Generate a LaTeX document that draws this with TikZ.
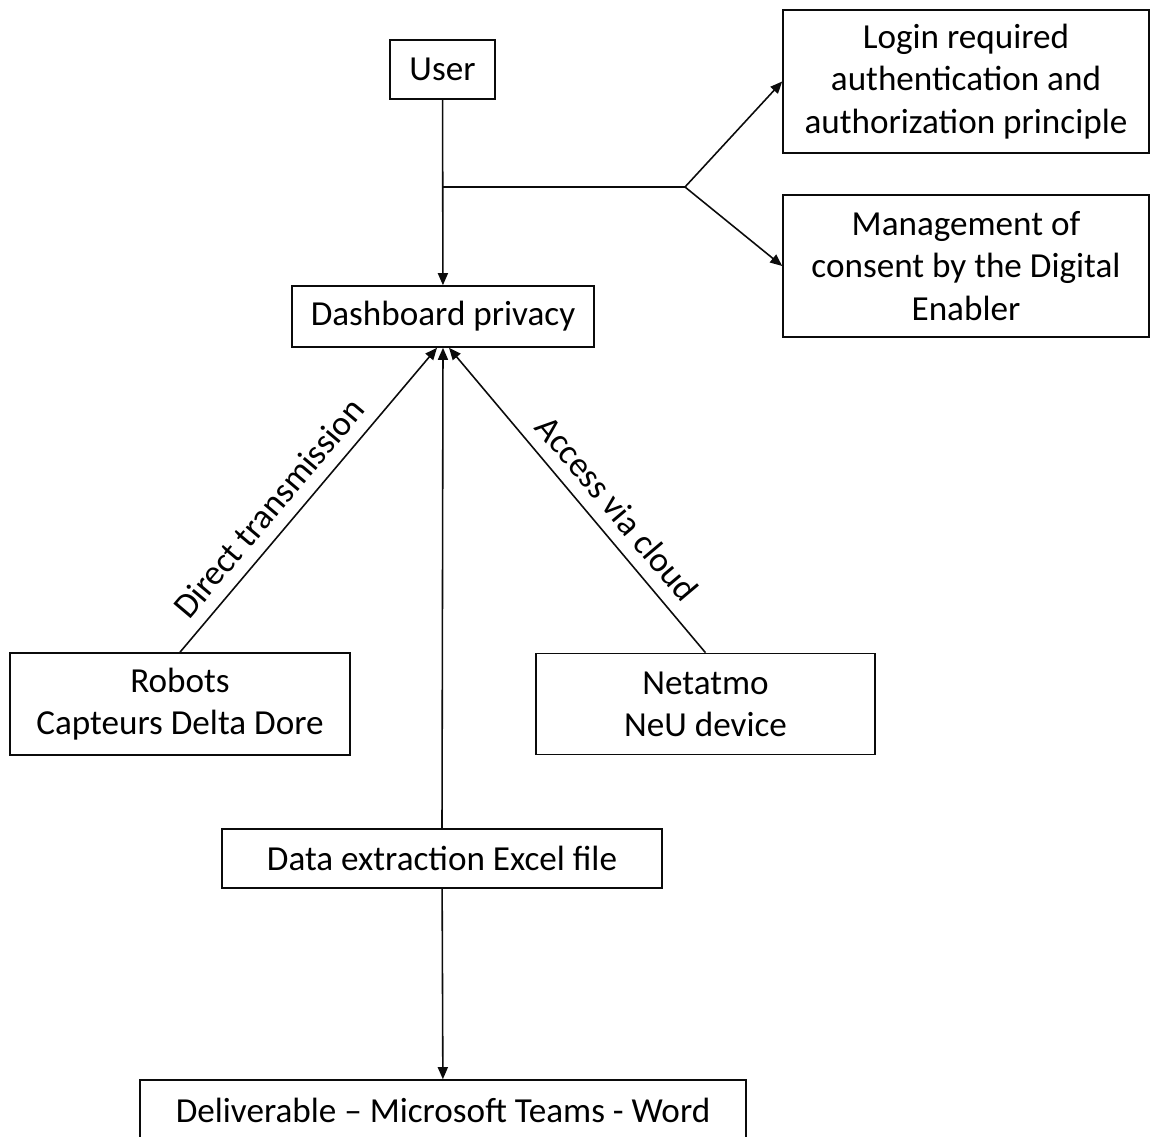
\documentclass[tikz,border=0pt]{standalone}
\usepackage{fontspec}
\setmainfont{Carlito}
\usetikzlibrary{arrows.meta,positioning}
\definecolor{ink}{HTML}{0B0B0B}

\begin{document}
\begin{tikzpicture}[x=0.1mm,y=-0.1mm,font=\fontsize{10}{12}\selectfont,
  box/.style={draw=ink,line width=0.45pt,align=center,inner sep=0pt},
  link/.style={-{Triangle[length=1.2mm,width=1mm]},line width=0.45pt,draw=ink},
  lbl/.style={pos=0.42,sloped,above,inner sep=3.5pt}]
  \useasboundingbox (0,0) rectangle (1150,1137);
  % boxes
  \node[box,minimum width=10.5mm,minimum height=5.9mm] (user) at (442.5,69.5) {User};
  \node[box,minimum width=30.2mm,minimum height=6.1mm] (dash) at (443,316.5) {Dashboard privacy};
  \node[box,minimum width=36.6mm,minimum height=14.3mm] (login) at (966,81.5)
    {Login required\\authentication and\\authorization principle};
  \node[box,minimum width=36.6mm,minimum height=14.2mm] (consent) at (966,266)
    {Management of\\consent by the Digital\\Enabler};
  \node[box,minimum width=34mm,minimum height=10.2mm] (robots) at (180,704)
    {Robots\\Capteurs Delta Dore};
  \node[box,minimum width=33.9mm,minimum height=10.1mm] (netatmo) at (705.5,704)
    {Netatmo\\NeU device};
  \node[box,minimum width=44mm,minimum height=5.9mm] (extract) at (442,858.5)
    {Data extraction Excel file};
  \node[box,minimum width=60.6mm,minimum height=6.0mm] (deliv) at (443,1110)
    {Deliverable -- Microsoft Teams - Word};
  % fork to the right
  \coordinate (fork) at (443,187);
  \coordinate (split) at (685,187);
  \draw[link] (user) -- (dash);
  \draw[line width=0.45pt,draw=ink] (fork) -- (split);
  \draw[link] (split) -- (login.west);
  \draw[link] (split) -- (consent.west);
  % sources
  \draw[link] (robots.north) -- ([xshift=-0.6mm]dash.south)
    node[lbl] {Direct transmission};
  \draw[link] (netatmo.north) -- ([xshift=0.6mm]dash.south)
    node[lbl] {Access via cloud};
  \draw[link,{Triangle[length=1.2mm,width=1mm]}-] (dash.south) -- (extract.north);
  \draw[link] (extract) -- (deliv);
\end{tikzpicture}
\end{document}
